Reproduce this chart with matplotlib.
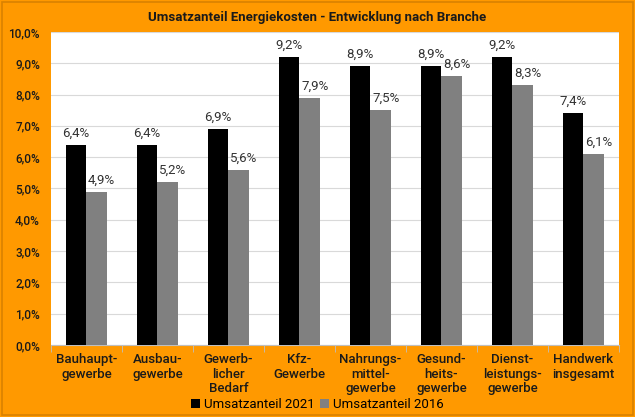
import numpy as np
import matplotlib.pyplot as plt
from matplotlib.patches import Rectangle
from matplotlib.ticker import FuncFormatter

plt.rcParams['font.family'] = ['Roboto', 'DejaVu Sans']

branchen = ["Bauhaupt-\ngewerbe", "Ausbau-\ngewerbe", "Gewerb-\nlicher\nBedarf",
            "Kfz-\nGewerbe", "Nahrungs-\nmittel-\ngewerbe", "Gesund-\nheits-\ngewerbe",
            "Dienst-\nleistungs-\ngewerbe", "Handwerk\ninsgesamt"]
anteil_2021 = [6.4, 6.4, 6.9, 9.2, 8.9, 8.9, 9.2, 7.4]
anteil_2016 = [4.9, 5.2, 5.6, 7.9, 7.5, 8.6, 8.3, 6.1]

orange = "#FF9900"
fig = plt.figure(figsize=(6.35, 4.17), dpi=100, facecolor=orange)
fig.patches.append(Rectangle((0.003, 0.004), 0.994, 0.992, transform=fig.transFigure,
                             fill=False, edgecolor="#D98200", lw=1.2))
ax = fig.add_axes([0.0803, 0.1727, 0.8945, 0.7506])
ax.set_facecolor("white")

x = np.arange(len(branchen))
w = 0.29
b1 = ax.bar(x - w / 2, anteil_2021, w, color="black", label="Umsatzanteil 2021", zorder=3)
b2 = ax.bar(x + w / 2, anteil_2016, w, color="#808080", label="Umsatzanteil 2016", zorder=3)

for bars, vals, dx in ((b1, anteil_2021, 0.0), (b2, anteil_2016, 0.07)):
    for r, v in zip(bars, vals):
        ax.text(r.get_x() + r.get_width() / 2 + dx, v + 0.17, f"{v:.1f}".replace(".", ",") + "%",
                ha="center", va="bottom", fontsize=9.5, color="#333333", zorder=4)

ax.set_ylim(0, 10)
ax.set_xlim(-0.5, len(branchen) - 0.5)
ax.set_yticks(np.arange(0, 10.01, 1))
ax.yaxis.set_major_formatter(FuncFormatter(lambda v, p: f"{v:.1f}".replace(".", ",") + "%"))
ax.grid(axis="y", color="#D9D9D9", lw=0.8, zorder=0)
ax.set_xticks(x)
ax.set_xticklabels(branchen, fontsize=9.5, fontweight="medium", color="#1a1a1a", linespacing=1.15)
ax.set_xticks(np.arange(-0.5, len(branchen)), minor=True)
ax.tick_params(axis="x", which="major", length=0, pad=6)
ax.tick_params(axis="x", which="minor", length=5, color="#BFBFBF")
ax.tick_params(axis="y", length=0, labelsize=8.5, labelcolor="#1a1a1a", pad=8)
for lbl in ax.get_yticklabels():
    lbl.set_fontweight("medium")
for s in ["top", "right", "left"]:
    ax.spines[s].set_visible(False)
ax.spines["bottom"].set_color("#BFBFBF")

fig.text(0.5, 0.957, "Umsatzanteil Energiekosten - Entwicklung nach Branche",
         ha="center", va="center", fontsize=9.5, fontweight="bold", color="#1a1a1a")
fig.legend(handles=[b1, b2], loc="center", bbox_to_anchor=(0.5, 0.03), ncol=2,
           frameon=False, fontsize=9.5, handlelength=0.7, handleheight=0.7,
           handletextpad=0.3, columnspacing=0.4)

fig.savefig("out.png", dpi=100, facecolor=orange)
